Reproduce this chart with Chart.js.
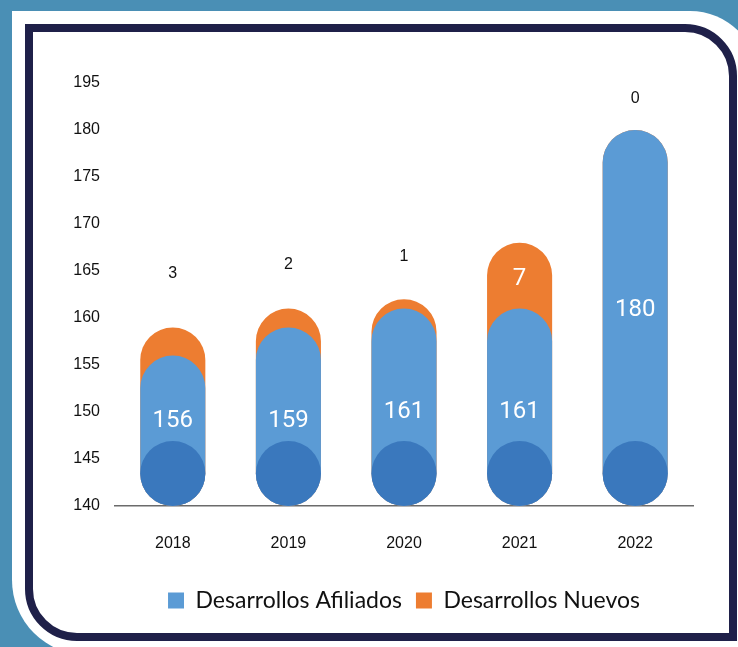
<!DOCTYPE html>
<html lang="es">
<head>
<meta charset="utf-8">
<title>Desarrollos</title>
<script src="https://cdn.jsdelivr.net/npm/chart.js@4.4.1/dist/chart.umd.min.js"></script>
<style>
    html, body { margin: 0; padding: 0; }
    body { width: 738px; height: 647px; background: #4a8fb5; position: relative; overflow: hidden; }
    .panel { position: absolute; left: 12px; top: 11px; width: 747px; height: 644px; background: #fff; border-radius: 0 69px 0 75px; }
    .marco { position: absolute; left: 25px; top: 24px; width: 696px; height: 601px; border: 8px solid #1f2049; border-radius: 0 52px 0 52px; background: #fff; }
    #grafico { position: absolute; left: 0; top: 0; }
</style>
</head>
<body>
<div class="panel"></div>
<div class="marco"></div>
<canvas id="grafico" width="738" height="647"></canvas>
<script>
const anios = ['2018', '2019', '2020', '2021', '2022'];
const afiliados = [156, 159, 161, 161, 180];
const nuevos = [3, 2, 1, 7, 0];
// etiquetas tal cual aparecen en el eje (la de arriba dice 195)
const etiquetasEjeY = ['140', '145', '150', '155', '160', '165', '170', '175', '180', '195'];
const EJE_MIN = 140;
const EJE_MAX = 185;

const AZUL = '#5b9bd5';
const NARANJA = '#ed7d31';
const AZUL_BASE = '#3a78bd';
// ajustes finos de donde cae cada etiqueta (px)
const elevacionEtiqueta = [54, 44, 43, 0, 31];
const ajusteBlanco = [-10, 4, 5, 5, -8];

// la barra naranja va detras y llega hasta afiliados + nuevos
const totales = afiliados.map((v, i) => v + nuevos[i]);

const pluginEtiquetas = {
    id: 'etiquetas',
    afterDatasetsDraw(chart) {
        const ctx = chart.ctx;
        const barrasAzules = chart.getDatasetMeta(0).data;
        const barrasNaranjas = chart.getDatasetMeta(1).data;
        ctx.save();
        ctx.textAlign = 'center';
        ctx.textBaseline = 'middle';
        barrasAzules.forEach((barra, i) => {
            const r = barra.width / 2;
            ctx.fillStyle = AZUL_BASE;
            ctx.beginPath();
            ctx.arc(barra.x, barra.base - r, r, 0, Math.PI * 2);
            ctx.fill();
            ctx.fillStyle = '#fff';
            ctx.font = '24px Roboto, "Liberation Sans", sans-serif';
            ctx.fillText(String(afiliados[i]), barra.x, (barra.y + barra.base) / 2 + ajusteBlanco[i]);
        });
        barrasNaranjas.forEach((barra, i) => {
            const topeAzul = barrasAzules[i].y;
            if (topeAzul - barra.y > 40) {
                ctx.fillStyle = '#fff';
                ctx.font = '24px Roboto, "Liberation Sans", sans-serif';
                ctx.fillText(String(nuevos[i]), barra.x, (barra.y + topeAzul) / 2 + 3);
            } else {
                ctx.fillStyle = '#111';
                ctx.font = '16px "Liberation Sans", Arial, sans-serif';
                ctx.fillText(String(nuevos[i]), barra.x, barra.y - elevacionEtiqueta[i]);
            }
        });
        ctx.restore();
    }
};

const grafico = new Chart(document.getElementById('grafico'), {
    type: 'bar',
    data: {
        labels: anios,
        datasets: [
            {
                label: 'Desarrollos Afiliados',
                data: afiliados,
                backgroundColor: AZUL,
                order: 1
            },
            {
                label: 'Desarrollos Nuevos',
                data: totales,
                backgroundColor: NARANJA,
                order: 2
            }
        ]
    },
    options: {
        responsive: false,
        animation: false,
        datasets: {
            bar: {
                base: EJE_MIN,
                grouped: false,
                categoryPercentage: 1,
                barPercentage: 0.563,
                borderRadius: 40,
                borderSkipped: false,
                borderWidth: 0
            }
        },
        layout: { padding: { left: 55, right: 45, top: 83, bottom: 25 } },
        scales: {
            x: {
                grid: { display: false, drawTicks: false },
                border: { display: true, color: '#6b6b6b', width: 1.5 },
                ticks: { padding: 28, color: '#111', font: { family: '"Liberation Sans", Arial, sans-serif', size: 16 } },
                afterFit: (eje) => { eje.height = 69; }
            },
            y: {
                min: EJE_MIN,
                max: EJE_MAX,
                grid: { display: false, drawTicks: false },
                border: { display: false },
                ticks: {
                    stepSize: 5,
                    padding: 15,
                    color: '#111',
                    font: { family: '"Liberation Sans", Arial, sans-serif', size: 16 },
                    callback: (valor, indice) => etiquetasEjeY[indice]
                },
                afterFit: (eje) => { eje.width = 60; }
            }
        },
        plugins: {
            tooltip: { enabled: false },
            legend: {
                position: 'bottom',
                fullSize: false,
                labels: {
                    boxWidth: 16,
                    boxHeight: 16,
                    padding: 14,
                    color: '#111',
                    font: { family: 'Lato, "Noto Sans", sans-serif', size: 23 }
                }
            }
        }
    },
    plugins: [pluginEtiquetas]
});
</script>
</body>
</html>
